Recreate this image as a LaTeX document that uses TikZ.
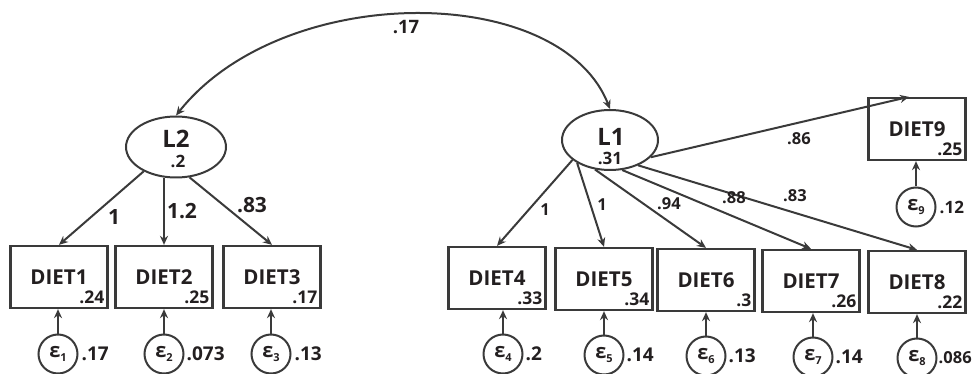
\documentclass[tikz,border=0pt]{standalone}
\usepackage{fontspec}
\setmainfont{Open Sans}
\usetikzlibrary{positioning,arrows.meta}
\usetikzlibrary{shapes}
\definecolor{edge}{RGB}{58,58,58}
\definecolor{ink}{RGB}{35,31,32}
\tikzset{
lat/.style={draw=edge, ellipse, line width=2pt, inner sep=0pt},
latname/.style={text=ink, inner sep=0pt, font=\bfseries\fontsize{24}{26}\selectfont},
latval/.style={text=ink, inner sep=0pt, font=\bfseries\fontsize{17}{19}\selectfont},
obs/.style={draw=edge, rectangle, line width=2.3pt, minimum width=97pt, minimum height=62pt,
    text=ink, font=\bfseries\fontsize{20.5}{22}\selectfont},
rsq/.style={text=ink, anchor=south east, inner xsep=4pt, inner ysep=5pt,
    font=\bfseries\fontsize{17.5}{19}\selectfont},
err/.style={draw=edge, circle, line width=2pt, minimum size=39pt, inner sep=0pt,
    text=ink, font=\bfseries\fontsize{20}{22}\selectfont},
errval/.style={text=ink, inner sep=0pt, font=\bfseries\fontsize{19}{21}\selectfont},
ldbig/.style={text=ink, inner sep=0pt, font=\bfseries\fontsize{21}{23}\selectfont},
ldsmall/.style={text=ink, inner sep=0pt, font=\bfseries\fontsize{16.5}{18}\selectfont},
arr/.style={-{Stealth[length=9pt,width=8pt]}, draw=edge, line width=2pt}
}
\newcommand{\eps}[1]{ε\raisebox{-0.4ex}{\fontsize{11}{11}\selectfont #1}}

\begin{document}
\begin{tikzpicture}[x=1pt,y=-1pt]
\useasboundingbox (0,0) rectangle (972,374);

\node[lat, minimum width=100pt, minimum height=61pt] (l2) at (176,147) {};
\node[latname] (l2n) at (176,139) {L2};
\node[latval] (l2v) at (178,161) {.2};
\node[lat, minimum width=96pt, minimum height=60pt] (l1) at (610,140) {};
\node[latname] (l1n) at (611,137) {L1};
\node[latval] (l1v) at (610,158) {.31};

\draw[arr,{Stealth[length=9pt,width=8pt]}-{Stealth[length=9pt,width=8pt]}]
    (l1.north) .. controls (560,-18) and (283,-19) .. (l2.north);
\node[ldsmall, font=\bfseries\fontsize{18.5}{20}\selectfont] (cov) at (406,27) {.17};

\node[obs] (d1) at (59,277) {DIET1};
\node[obs] (d2) at (164,277) {DIET2};
\node[obs] (d3) at (272,277) {DIET3};
\node[obs] (d4) at (497,278) {DIET4};
\node[obs] (d5) at (604,279) {DIET5};
\node[obs] (d6) at (706,280) {DIET6};
\node[obs] (d7) at (811,281) {DIET7};
\node[obs] (d8) at (917,282) {DIET8};
\node[obs] (d9) at (917,129) {DIET9};

\node[rsq] (r1) at (d1.south east) {.24};
\node[rsq] (r2) at (d2.south east) {.25};
\node[rsq] (r3) at (d3.south east) {.17};
\node[rsq] (r4) at (d4.south east) {.33};
\node[rsq] (r5) at (d5.south east) {.34};
\node[rsq] (r6) at (d6.south east) {.3};
\node[rsq] (r7) at (d7.south east) {.26};
\node[rsq] (r8) at (d8.south east) {.22};
\node[rsq] (r9) at (d9.south east) {.25};

\draw[arr] (l2.-143) -- (d1.north);
\draw[arr] (d2.north |- l2.south) -- (d2.north);
\draw[arr] (l2.-66) -- (d3.north);
\draw[arr] (l1.-152) -- (d4.north);
\draw[arr] (l1.-145) -- (d5.north);
\draw[arr] (l1.-117) -- (d6.north);
\draw[arr] (l1.-68) -- (d7.north);
\draw[arr] (l1.-42) -- (d8.north);
\draw[arr] (l1.-23) -- ([xshift=-8pt]d9.north);

\node[ldbig] (a1) at (114,217) {1};
\node[ldbig] (a2) at (182,211) {1.2};
\node[ldbig] (a3) at (252,205) {.83};
\node[ldsmall] (a4) at (545,210) {1};
\node[ldsmall] (a5) at (602,205) {1};
\node[ldsmall] (a6) at (669,204) {.94};
\node[ldsmall] (a7) at (734,198) {.88};
\node[ldsmall] (a8) at (795,196) {.83};
\node[ldsmall] (a9) at (799,139) {.86};

\node[err] (e1) at (58,354) {\eps{1}};
\node[err] (e2) at (164,354) {\eps{2}};
\node[err] (e3) at (271,354) {\eps{3}};
\node[err] (e4) at (503,354) {\eps{4}};
\node[err] (e5) at (604,355) {\eps{5}};
\node[err] (e6) at (706,356) {\eps{6}};
\node[err] (e7) at (813,357) {\eps{7}};
\node[err] (e8) at (917,358) {\eps{8}};
\node[err] (e9) at (916,207) {\eps{9}};

\draw[arr] (e1) -- (e1 |- d1.south);
\draw[arr] (e2) -- (e2 |- d2.south);
\draw[arr] (e3) -- (e3 |- d3.south);
\draw[arr] (e4) -- (e4 |- d4.south);
\draw[arr] (e5) -- (e5 |- d5.south);
\draw[arr] (e6) -- (e6 |- d6.south);
\draw[arr] (e7) -- (e7 |- d7.south);
\draw[arr] (e8) -- (e8 |- d8.south);
\draw[arr] (e9) -- (e9 |- d9.south);

\node[errval, right=3pt of e1] (v1) {.17};
\node[errval, right=2pt of e2] (v2) {.073};
\node[errval, right=3pt of e3] (v3) {.13};
\node[errval, right=2pt of e4] (v4) {.2};
\node[errval, right=2pt of e5] (v5) {.14};
\node[errval, right=2pt of e6] (v6) {.13};
\node[errval, right=2pt of e7] (v7) {.14};
\node[errval, right=1pt of e8, font=\bfseries\fontsize{16.5}{18}\selectfont] (v8) {.086};
\node[errval, right=3pt of e9, font=\bfseries\fontsize{17}{19}\selectfont] (v9) {.12};
\end{tikzpicture}
\end{document}
